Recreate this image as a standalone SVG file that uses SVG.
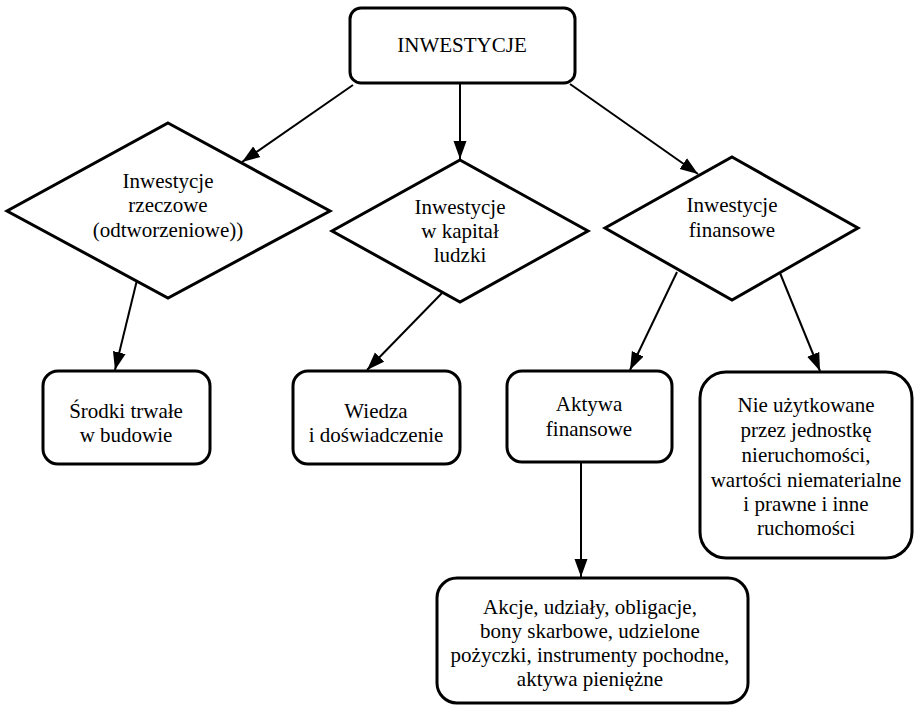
<svg xmlns="http://www.w3.org/2000/svg" width="917" height="705" viewBox="0 0 917 705">
<style>
.box{fill:#fff;stroke:#000;stroke-width:3}
.dia{fill:#fff;stroke:#000;stroke-width:3;stroke-linejoin:miter}
.t{font-family:"Liberation Serif","Times New Roman",serif;font-size:21px;fill:#000;text-anchor:middle}
.c{stroke:#000;stroke-width:2;fill:none}
</style>
<defs>
<marker id="arr" markerUnits="userSpaceOnUse" markerWidth="19" markerHeight="14" refX="18" refY="7" orient="auto">
<path d="M0,0.5 L18,7 L0,13.5 z" fill="#000"/>
</marker>
</defs>
<rect width="917" height="705" fill="#fff"/>
<g id="connectors">
<line class="c" x1="353" y1="85" x2="242" y2="162" marker-end="url(#arr)"/>
<line class="c" x1="460" y1="84" x2="460" y2="159" marker-end="url(#arr)"/>
<line class="c" x1="570" y1="84" x2="698" y2="174" marker-end="url(#arr)"/>
<line class="c" x1="137" y1="280" x2="115" y2="370" marker-end="url(#arr)"/>
<line class="c" x1="443" y1="292" x2="367" y2="370" marker-end="url(#arr)"/>
<line class="c" x1="677" y1="272" x2="630" y2="370" marker-end="url(#arr)"/>
<line class="c" x1="780" y1="273" x2="820" y2="371" marker-end="url(#arr)"/>
<line class="c" x1="581" y1="463" x2="581" y2="577" marker-end="url(#arr)"/>
</g>
<g id="inwestycje">
<rect class="box" x="350" y="8" width="225" height="75" rx="11"/>
<text class="t" x="462" y="52">INWESTYCJE</text>
</g>
<g id="rzeczowe">
<polygon class="dia" points="168,123 330,211 168,298 7,211"/>
<text class="t" x="168" y="188">Inwestycje</text>
<text class="t" x="168" y="212">rzeczowe</text>
<text class="t" x="168" y="237">(odtworzeniowe))</text>
</g>
<g id="kapital">
<polygon class="dia" points="460,160 588,231 460,302 332,231"/>
<text class="t" x="460" y="214">Inwestycje</text>
<text class="t" x="460" y="238">w kapitał</text>
<text class="t" x="460" y="262">ludzki</text>
</g>
<g id="finansowe">
<polygon class="dia" points="732,157 858,228 732,300 605,228"/>
<text class="t" x="732" y="212">Inwestycje</text>
<text class="t" x="732" y="237">finansowe</text>
</g>
<g id="srodki">
<rect class="box" x="43" y="371" width="167" height="93" rx="15"/>
<text class="t" x="126" y="418">Środki trwałe</text>
<text class="t" x="126" y="442">w budowie</text>
</g>
<g id="wiedza">
<rect class="box" x="293" y="371" width="167" height="93" rx="15"/>
<text class="t" x="376" y="418">Wiedza</text>
<text class="t" x="376" y="442">i doświadczenie</text>
</g>
<g id="aktywa">
<rect class="box" x="507" y="371" width="165" height="91" rx="15"/>
<text class="t" x="589" y="411">Aktywa</text>
<text class="t" x="589" y="436">finansowe</text>
</g>
<g id="nieruchomosci">
<rect class="box" x="700" y="372" width="212" height="186" rx="26"/>
<text class="t" x="806" y="412">Nie użytkowane</text>
<text class="t" x="806" y="437">przez jednostkę</text>
<text class="t" x="806" y="462">nieruchomości,</text>
<text class="t" x="806" y="487">wartości niematerialne</text>
<text class="t" x="806" y="511">i prawne i inne</text>
<text class="t" x="806" y="535">ruchomości</text>
</g>
<g id="akcje">
<rect class="box" x="437" y="578" width="311" height="125" rx="20"/>
<text class="t" x="590" y="614">Akcje, udziały, obligacje,</text>
<text class="t" x="590" y="638">bony skarbowe, udzielone</text>
<text class="t" x="590" y="662">pożyczki, instrumenty pochodne,</text>
<text class="t" x="590" y="686">aktywa pieniężne</text>
</g>
</svg>
